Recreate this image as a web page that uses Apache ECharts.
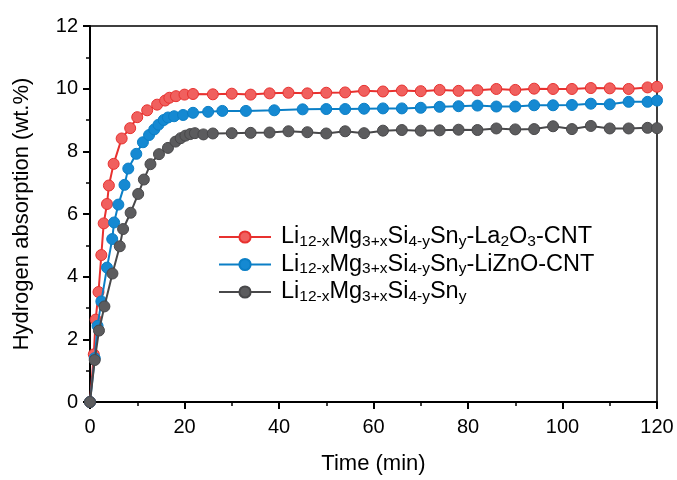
<!DOCTYPE html>
<html>
<head>
<meta charset="utf-8">
<title>Hydrogen absorption kinetics</title>
<script src="https://cdn.jsdelivr.net/npm/echarts@6/dist/echarts.min.js"></script>
<style>
  html, body { margin: 0; padding: 0; background: #fff; }
  #chart { width: 677px; height: 480px; }
</style>
</head>
<body>
<div id="chart"></div>
<script>
// Series names (plain keys) and their rich-text legend labels
const seriesNames = [
  'Li12-xMg3+xSi4-ySny-La2O3-CNT',
  'Li12-xMg3+xSi4-ySny-LiZnO-CNT',
  'Li12-xMg3+xSi4-ySny'
];
const legendLabels = [
  '{n|Li}{s|12-x}{n|Mg}{s|3+x}{n|Si}{s|4-y}{n|Sn}{s|y}{n|-La}{s|2}{n|O}{s|3}{n|-CNT}',
  '{n|Li}{s|12-x}{n|Mg}{s|3+x}{n|Si}{s|4-y}{n|Sn}{s|y}{n|-LiZnO-CNT}',
  '{n|Li}{s|12-x}{n|Mg}{s|3+x}{n|Si}{s|4-y}{n|Sn}{s|y}'
];

// La2O3-CNT composite: time (min) and absorbed hydrogen (wt.%)
const timeLa = [0, 0.8, 1.2, 1.8, 2.4, 2.9, 3.6, 4.0, 5.0, 6.7, 8.5, 10.0, 12.1, 14.2, 15.9, 16.8, 18.2, 20.0, 21.8,
  26, 30, 34, 38, 42, 46, 50, 54, 58, 62, 66, 70, 74, 78, 82, 86, 90, 94, 98, 102, 106, 110, 114, 118, 120];
const absLa = [0, 1.52, 2.63, 3.51, 4.69, 5.70, 6.32, 6.91, 7.60, 8.41, 8.74, 9.09, 9.31, 9.49, 9.62, 9.71, 9.76, 9.81, 9.83,
  9.82, 9.84, 9.81, 9.85, 9.87, 9.85, 9.87, 9.88, 9.93, 9.91, 9.94, 9.92, 9.96, 9.93, 9.95, 9.99, 9.96, 10.00, 9.99, 9.99, 10.02, 10.01, 9.99, 10.04, 10.06];

// LiZnO-CNT composite
const timeZn = [0, 1.0, 1.6, 2.4, 3.6, 4.7, 5.1, 6.0, 7.3, 8.1, 9.8, 11.2, 12.5, 13.6, 14.5, 15.6, 16.5, 17.8, 19.7, 21.8,
  25, 28, 33, 39, 45, 50, 54, 58, 62, 66, 70, 74, 78, 82, 86, 90, 94, 98, 102, 106, 110, 114, 118, 120];
const absZn = [0, 1.40, 2.43, 3.21, 4.29, 5.20, 5.73, 6.30, 6.93, 7.45, 7.92, 8.29, 8.52, 8.70, 8.85, 9.00, 9.08, 9.12, 9.16, 9.23,
  9.26, 9.29, 9.29, 9.31, 9.34, 9.35, 9.35, 9.36, 9.37, 9.37, 9.39, 9.42, 9.44, 9.46, 9.43, 9.43, 9.47, 9.47, 9.48, 9.52, 9.50, 9.58, 9.58, 9.62];

// Pristine alloy
const timeBase = [0, 1.0, 1.9, 3.05, 4.75, 6.3, 7.0, 8.6, 10.2, 11.4, 12.8, 14.6, 16.5, 18.1, 19.2, 20.2, 21.2, 22.2,
  24, 26, 30, 34, 38, 42, 46, 50, 54, 58, 62, 66, 70, 74, 78, 82, 86, 90, 94, 98, 102, 106, 110, 114, 118, 120];
const absBase = [0, 1.34, 2.28, 3.05, 4.10, 4.97, 5.52, 6.04, 6.64, 7.10, 7.59, 7.91, 8.11, 8.31, 8.42, 8.50, 8.55, 8.58,
  8.54, 8.57, 8.58, 8.59, 8.60, 8.64, 8.61, 8.57, 8.64, 8.58, 8.66, 8.68, 8.66, 8.67, 8.69, 8.68, 8.73, 8.70, 8.71, 8.80, 8.71, 8.81, 8.73, 8.73, 8.75, 8.74];

const FONT = 'Arial, "Liberation Sans", Helvetica, sans-serif';

function pairs(xs, ys) {
  return xs.map((x, i) => [x, ys[i]]);
}

function makeSeries(name, xs, ys, lineColor, fillColor, z) {
  return {
    name: name,
    type: 'line',
    data: pairs(xs, ys),
    symbol: 'circle',
    symbolSize: 11,
    z: z,
    lineStyle: { color: lineColor, width: 2 },
    itemStyle: { color: fillColor, borderColor: lineColor, borderWidth: 1 },
    emphasis: { disabled: true },
    animation: false
  };
}

const chart = echarts.init(document.getElementById('chart'), null, { renderer: 'canvas' });

chart.setOption({
  backgroundColor: '#ffffff',
  animation: false,
  textStyle: { fontFamily: FONT },
  grid: {
    left: 90, right: 20, top: 26, bottom: 75,
    show: true, borderColor: '#000', borderWidth: 1.5, backgroundColor: 'transparent'
  },
  legend: {
    orient: 'vertical',
    left: 213,
    top: 220,
    itemWidth: 52,
    itemHeight: 14,
    itemGap: 3,
    selectedMode: false,
    data: seriesNames,
    formatter: function (name) {
      return legendLabels[seriesNames.indexOf(name)];
    },
    textStyle: {
      color: '#000',
      padding: [0, 0, 0, 5],
      rich: {
        n: { fontSize: 23.5, fontFamily: FONT, color: '#000', lineHeight: 25 },
        s: { fontSize: 15.5, fontFamily: FONT, color: '#000', lineHeight: 10, verticalAlign: 'bottom' }
      }
    }
  },
  xAxis: {
    type: 'value',
    min: 0, max: 120, interval: 20,
    name: 'Time (min)',
    nameLocation: 'middle',
    nameGap: 51,
    nameTextStyle: { fontSize: 22, color: '#000', fontFamily: FONT },
    axisLine: { show: true, onZero: false, lineStyle: { color: '#000', width: 2 } },
    axisTick: { show: true, inside: false, length: 7, lineStyle: { color: '#000', width: 2 } },
    minorTick: { show: true, splitNumber: 2, length: 4, lineStyle: { color: '#000', width: 1.5 } },
    axisLabel: { fontSize: 20, color: '#000', margin: 15, fontFamily: FONT },
    splitLine: { show: false }
  },
  yAxis: {
    type: 'value',
    min: 0, max: 12, interval: 2,
    name: 'Hydrogen absorption (wt.%)',
    nameLocation: 'middle',
    nameGap: 57,
    nameTextStyle: { fontSize: 22, color: '#000', fontFamily: FONT },
    axisLine: { show: true, onZero: false, lineStyle: { color: '#000', width: 2 } },
    axisTick: { show: true, inside: false, length: 7, lineStyle: { color: '#000', width: 2 } },
    minorTick: { show: true, splitNumber: 2, length: 4, lineStyle: { color: '#000', width: 1.5 } },
    axisLabel: { fontSize: 20, color: '#000', margin: 12, fontFamily: FONT },
    splitLine: { show: false }
  },
  series: [
    makeSeries(seriesNames[0], timeLa, absLa, '#e8312f', '#f0605e', 2),
    makeSeries(seriesNames[1], timeZn, absZn, '#0b7fc6', '#1589d2', 3),
    makeSeries(seriesNames[2], timeBase, absBase, '#48484a', '#5c5c5e', 4)
  ]
});
</script>
</body>
</html>
